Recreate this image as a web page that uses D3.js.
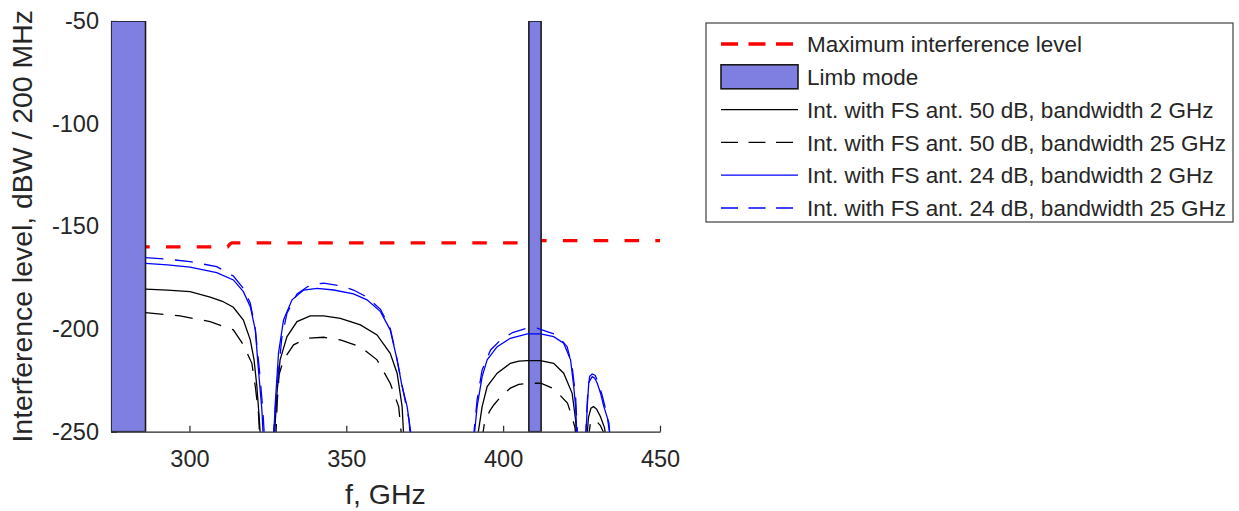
<!DOCTYPE html>
<html>
<head>
<meta charset="utf-8">
<script src="https://cdn.jsdelivr.net/npm/d3@7"></script>
<style>
  html, body { margin: 0; padding: 0; background: #fff; }
  svg text { font-family: "Liberation Sans", Arial, Helvetica, sans-serif; fill: #262626; }
</style>
</head>
<body>
<svg id="chart" width="1239" height="511"></svg>
<script>
// Axis ticks
const xTicks = [300, 350, 400, 450];
const yTicks = [-50, -100, -150, -200, -250];

// Limb-mode frequency bands, GHz
const limbBands = [[275, 286], [408.2, 412.1]];

// Maximum interference level, [GHz, dBW/200 MHz]
const maxLevel = [[275, -160], [312.2, -160], [313, -158.5], [313.6, -158], [409.9, -158], [410, -157], [450, -157]];

// Interference with FS antenna 50 dB, bandwidth 2 GHz (null = break between lobes)
const fs50bw2 = [
  [286, -180.6], [293, -181.1], [300.2, -181.8], [306.6, -184.5], [310.5, -186.5], [314, -189.4], [317.2, -195.6],
  [319.4, -205.3], [320.6, -215], [321.5, -228], [322.3, -244.3], [322.7, -255],
  null,
  [327.0, -255], [327.9, -231.3], [328.9, -215], [331.1, -203.7], [334.3, -196.4], [338.5, -193.6], [342.8, -193.6],
  [348.1, -194.8], [354.5, -198], [359.8, -202.9], [364, -211.8], [366.2, -221.5], [367.8, -237.8], [368.4, -255],
  null,
  [391.6, -255], [393.3, -237.8], [394.9, -228], [398.1, -221.5], [402.3, -216.7], [405, -215.6], [407.7, -215.4],
  [411.9, -215.4], [416.1, -216.7], [419.3, -221.5], [422, -231.3], [423.1, -244.3], [423.5, -255],
  null,
  [426.6, -255], [427.2, -243], [428.0, -238.5], [428.8, -237.8], [429.8, -239], [431, -242.6], [432.3, -248], [433, -255]
];

// Interference with FS antenna 50 dB, bandwidth 25 GHz
const fs50bw25 = [
  [286, -192], [297, -193.6], [306.6, -196.4], [314, -200.4], [317.2, -207.7], [319.9, -216.7], [321, -228],
  [322, -241], [322.5, -255],
  null,
  [327.5, -255], [328, -235], [328.6, -222], [330, -215], [333.2, -207.7], [337.5, -204.5], [342.8, -204],
  [348.1, -205.3], [354.5, -208.6], [359.8, -215], [364, -226.4], [366.7, -237.8], [367.8, -255],
  null,
  [393.2, -255], [394, -246], [395.7, -240], [397, -237], [399.5, -232.5], [402.3, -228.8], [405, -227], [408, -226.4],
  [412, -226.4], [415.7, -228.8], [418, -232], [420.5, -236.1], [421.8, -242], [422.9, -248], [423.3, -255],
  null,
  [427, -255], [427.8, -246], [428.6, -244], [429.5, -244.5], [431, -247], [432.5, -252], [433, -255]
];

// Interference with FS antenna 24 dB, bandwidth 2 GHz
const fs24bw2 = [
  [286, -168], [293, -168.8], [300.2, -169.9], [308.7, -172.5], [314, -176.1], [317.2, -181.8], [319.4, -189.1],
  [321, -200.4], [322, -219.9], [323.1, -239.4], [323.6, -255],
  null,
  [326.8, -255], [327.3, -237.8], [328.4, -211.7], [330, -195.6], [332.7, -185.8], [336.4, -181], [340.7, -180.2],
  [346, -181], [352.3, -182.9], [356.6, -185.8], [360.9, -191.5], [364, -200.4], [366.2, -215], [367.8, -228],
  [369.4, -237.8], [371, -255],
  null,
  [390.6, -255], [391.7, -237.8], [393.3, -223.2], [394.9, -215], [398.1, -208.6], [402.3, -204.5], [407.7, -202.4],
  [411.9, -202.4], [416.1, -203.7], [419.3, -206.9], [421.5, -215], [422.5, -228], [423.1, -237.8], [423.6, -255],
  null,
  [426.3, -255], [426.8, -238], [427.3, -226], [428.4, -223.2], [429.2, -224], [430, -226.4], [431, -231],
  [432.1, -237.8], [433.7, -245.6], [434.2, -255]
];

// Interference with FS antenna 24 dB, bandwidth 25 GHz
const fs24bw25 = [
  [286, -165.2], [293, -166], [300.2, -167.2], [308.7, -169.6], [314, -174.2], [317.2, -180.2], [319.4, -187.4],
  [321, -200], [322.3, -219.9], [323.4, -239.4], [324, -255],
  null,
  [326.6, -255], [327.9, -228], [329.5, -203.7], [331.1, -192.3], [334.3, -182.9], [338.5, -178.5], [342.8, -177.7],
  [348.1, -178.9], [352.3, -181], [356.6, -184.5], [360.9, -190.4], [364, -199.6], [366.2, -215], [368.3, -231.3],
  [370, -244.3], [370.5, -255],
  null,
  [390.4, -255], [391.7, -234.5], [393.3, -219.9], [396, -210.2], [399.2, -205.3], [403, -201.7], [407.7, -199.6],
  [410.8, -199.6], [414, -201.3], [417.2, -202.9], [420.4, -208.6], [422, -218.3], [423.1, -233], [423.8, -255],
  null,
  [426.2, -255], [427, -230], [427.6, -223], [428.4, -221.9], [429.3, -222.5], [430.2, -225.5], [431.5, -232],
  [433, -241], [434.4, -255]
];

const legendLabels = [
  "Maximum interference level",
  "Limb mode",
  "Int. with FS ant. 50 dB, bandwidth 2 GHz",
  "Int. with FS ant. 50 dB, bandwidth 25 GHz",
  "Int. with FS ant. 24 dB, bandwidth 2 GHz",
  "Int. with FS ant. 24 dB, bandwidth 25 GHz"
];

const axisColor = "#262626";
const limbFill = "#7f7fe2";

const svg = d3.select("#chart");

const x = d3.scaleLinear().domain([275, 450]).range([111, 660]);
const y = d3.scaleLinear().domain([-250, -50]).range([431.7, 21]);

// Plain hyphen-minus for negative tick labels
const plainNumber = d => String(d);

// Axes (drawn first so the data sits on top of them)
const xAxis = svg.append("g")
  .attr("transform", `translate(0,${y(-250)})`)
  .call(d3.axisBottom(x).tickValues(xTicks).tickFormat(plainNumber)
    .tickSizeInner(-6).tickSizeOuter(0).tickPadding(19));
const yAxis = svg.append("g")
  .attr("transform", `translate(${x(275)},0)`)
  .call(d3.axisLeft(y).tickValues(yTicks).tickFormat(plainNumber)
    .tickSizeInner(-6).tickSizeOuter(0).tickPadding(12));

[xAxis, yAxis].forEach(g => {
  g.select(".domain").attr("stroke", axisColor).attr("stroke-width", 1.2);
  g.selectAll(".tick line").attr("stroke", axisColor).attr("stroke-width", 1.2);
  g.selectAll(".tick text").attr("fill", axisColor).style("font-size", "23.5px").attr("font-family", null);
});

// Axis titles
svg.append("text")
  .attr("x", (x(275) + x(450)) / 2)
  .attr("y", 504)
  .attr("text-anchor", "middle")
  .style("font-size", "28.5px")
  .text("f, GHz");

svg.append("text")
  .attr("transform", `translate(32,${(y(-50) + y(-250)) / 2}) rotate(-90)`)
  .attr("text-anchor", "middle")
  .style("font-size", "28.4px")
  .text("Interference level, dBW / 200 MHz");

// Plot-area clip
svg.append("clipPath").attr("id", "plotClip")
  .append("rect")
  .attr("x", x(275)).attr("y", y(-50))
  .attr("width", x(450) - x(275)).attr("height", y(-250) - y(-50));

const plot = svg.append("g").attr("clip-path", "url(#plotClip)");

const line = d3.line()
  .defined(d => d !== null)
  .x(d => x(d[0]))
  .y(d => y(d[1]));

// Maximum interference level
plot.append("path")
  .datum(maxLevel)
  .attr("d", line)
  .attr("fill", "none")
  .attr("stroke", "#ff0000")
  .attr("stroke-width", 3.3)
  .attr("stroke-dasharray", "14.5 16.3")
  .attr("stroke-dashoffset", 6.6);

// Limb-mode bands
plot.selectAll("rect.limb")
  .data(limbBands)
  .join("rect")
  .attr("class", "limb")
  .attr("x", d => x(d[0]))
  .attr("y", y(-50))
  .attr("width", d => x(d[1]) - x(d[0]))
  .attr("height", y(-250) - y(-50))
  .attr("fill", limbFill)
  .attr("stroke", "#1a1a1a")
  .attr("stroke-width", 1.6);

// Interference curves
const curves = [
  { data: fs50bw2, color: "#000000", dash: null },
  { data: fs50bw25, color: "#000000", dash: "18 11.5" },
  { data: fs24bw2, color: "#0000ff", dash: null },
  { data: fs24bw25, color: "#0000ff", dash: "18 11.5" }
];

curves.forEach(c => {
  plot.append("path")
    .datum(c.data)
    .attr("d", line)
    .attr("fill", "none")
    .attr("stroke", c.color)
    .attr("stroke-width", 1.3)
    .attr("stroke-dasharray", c.dash);
});

// Legend
const legend = svg.append("g").attr("transform", "translate(706,23)");
legend.append("rect")
  .attr("x", 0).attr("y", 0)
  .attr("width", 527).attr("height", 199)
  .attr("fill", "#fff")
  .attr("stroke", "#404040")
  .attr("stroke-width", 1.2);

const rowY = d3.scalePoint().domain(d3.range(legendLabels.length)).range([21, 185]);
const sampleX0 = 15, sampleX1 = 92, textX = 101;

const samples = [
  { type: "line", color: "#ff0000", width: 3.3, dash: "17 10.5" },
  { type: "patch" },
  { type: "line", color: "#000000", width: 1.3, dash: null },
  { type: "line", color: "#000000", width: 1.3, dash: "17 10.5" },
  { type: "line", color: "#0000ff", width: 1.3, dash: null },
  { type: "line", color: "#0000ff", width: 1.3, dash: "17 10.5" }
];

legendLabels.forEach((label, i) => {
  const cy = rowY(i);
  const s = samples[i];
  if (s.type === "patch") {
    legend.append("rect")
      .attr("x", sampleX0).attr("y", cy - 12)
      .attr("width", sampleX1 - sampleX0).attr("height", 24)
      .attr("fill", limbFill)
      .attr("stroke", "#1a1a1a")
      .attr("stroke-width", 1.6);
  } else {
    legend.append("line")
      .attr("x1", sampleX0).attr("x2", sampleX1)
      .attr("y1", cy).attr("y2", cy)
      .attr("stroke", s.color)
      .attr("stroke-width", s.width)
      .attr("stroke-dasharray", s.dash);
  }
  legend.append("text")
    .attr("x", textX).attr("y", cy)
    .attr("dy", "0.36em")
    .style("font-size", "22.5px")
    .text(label);
});
</script>
</body>
</html>
